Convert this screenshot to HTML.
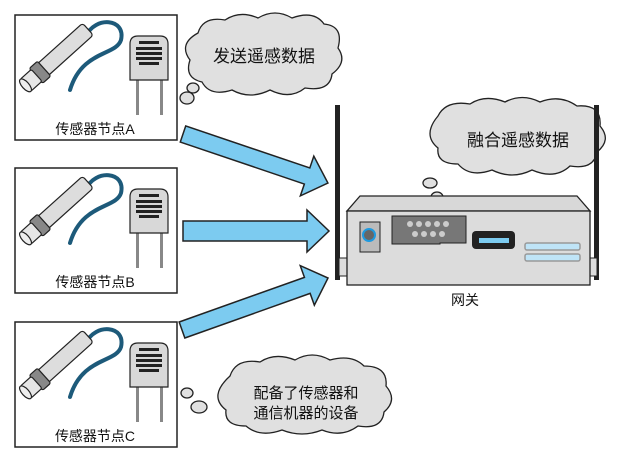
<!DOCTYPE html>
<html><head><meta charset="utf-8"><style>
html,body{margin:0;padding:0;background:#fff;}
svg{display:block;}
text{font-family:"Liberation Sans","Noto Sans CJK SC",sans-serif;fill:#111;}
</style></head><body>
<svg width="631" height="464" viewBox="0 0 631 464" xmlns="http://www.w3.org/2000/svg">
<defs>
<g id="node">
  <rect x="15" y="15" width="162" height="125" fill="#fff" stroke="#222" stroke-width="1.5"/>
  <path d="M86,36 C95,16 126,18 121,40 C116,56 82,50 70,90" fill="none" stroke="#1d5a7a" stroke-width="4" stroke-linecap="round"/>
  <g transform="translate(27,84) rotate(-42)">
    <rect x="10" y="-8" width="72" height="16" rx="3" fill="#ddd" stroke="#222" stroke-width="1.2"/>
    <rect x="12" y="-10" width="11" height="20" rx="2" fill="#888" stroke="#222" stroke-width="1.2"/>
    <rect x="-2" y="-8" width="15" height="16" rx="2" fill="#e6e6e6" stroke="#222" stroke-width="1.2"/>
    <ellipse cx="-2" cy="0" rx="3.5" ry="8" fill="#eee" stroke="#222" stroke-width="1.2"/>
  </g>
  <rect x="136" y="78" width="3" height="37" fill="#888"/>
  <rect x="160" y="78" width="3" height="37" fill="#888"/>
  <path d="M130,80 L130,44 Q130,36 138,36 L160,36 Q168,36 168,44 L168,80 Z" fill="#d8d8d8" stroke="#222" stroke-width="1.2"/>
  <rect x="139" y="41" width="20" height="3" fill="#222"/>
  <rect x="136" y="47" width="26" height="3" fill="#222"/>
  <rect x="136" y="52" width="26" height="3" fill="#222"/>
  <rect x="136" y="57" width="26" height="3" fill="#222"/>
  <rect x="139" y="62" width="20" height="3" fill="#222"/>
</g>
</defs>

<use href="#node"/>
<use href="#node" transform="translate(0,153)"/>
<use href="#node" transform="translate(0,307)"/>
<text x="95" y="134" font-size="14" text-anchor="middle">传感器节点A</text>
<text x="95" y="287" font-size="14" text-anchor="middle">传感器节点B</text>
<text x="95" y="441" font-size="14" text-anchor="middle">传感器节点C</text>

<g fill="#7ccbf0" stroke="#222" stroke-width="1.5" stroke-linejoin="miter">
  <polygon transform="translate(183,134) rotate(18.7)" points="0,-8.5 131,-8.5 131,-21 153,0 131,21 131,8.5 0,8.5"/>
  <polygon transform="translate(183,231)" points="0,-10 124,-10 124,-21 146,0 124,21 124,10 0,10"/>
  <polygon transform="translate(182,330) rotate(-19.6)" points="0,-8.5 133,-8.5 133,-21 155,0 133,21 133,8.5 0,8.5"/>
</g>

<g fill="#e0e0e0" stroke="#222" stroke-width="1.3">
  <path d="M198,33 Q203,16 225,20 Q240,10 258,18 Q275,8 292,18 Q314,10 324,24 Q344,26 338,48 Q348,62 332,74 Q330,92 305,88 Q290,100 270,90 Q250,100 232,90 Q210,97 202,82 Q184,78 190,60 Q178,44 198,33 Z"/>
  <ellipse cx="193" cy="88" rx="6" ry="5"/>
  <ellipse cx="187" cy="98" rx="7" ry="6"/>
  <path d="M438,116 Q446,100 470,104 Q485,94 505,102 Q522,93 540,102 Q560,94 577,106 Q602,104 600,126 Q612,140 597,152 Q594,170 570,166 Q555,180 532,170 Q512,180 492,170 Q470,178 458,164 Q436,164 438,148 Q422,135 438,116 Z"/>
  <ellipse cx="430" cy="183" rx="7" ry="5"/>
  <ellipse cx="437" cy="197" rx="6" ry="5"/>
  <path d="M230,376 Q236,358 260,362 Q275,352 295,360 Q312,350 330,360 Q352,354 364,366 Q388,366 386,386 Q398,400 384,412 Q382,430 358,426 Q342,438 322,430 Q302,438 282,430 Q260,438 246,426 Q224,426 226,410 Q208,396 230,376 Z"/>
  <ellipse cx="187" cy="393" rx="6" ry="5"/>
  <ellipse cx="199" cy="407" rx="8" ry="6"/>
</g>
<text x="264" y="62" font-size="17" text-anchor="middle">发送遥感数据</text>
<text x="518" y="146" font-size="17" text-anchor="middle">融合遥感数据</text>
<text x="306" y="398" font-size="15" text-anchor="middle">配备了传感器和</text>
<text x="306" y="418" font-size="15" text-anchor="middle">通信机器的设备</text>

<rect x="335" y="105" width="5" height="175" fill="#222"/>
<rect x="594" y="105" width="5" height="175" fill="#222"/>
<rect x="339" y="258" width="9" height="18" fill="#ddd" stroke="#222" stroke-width="1"/>
<rect x="588" y="258" width="9" height="18" fill="#ddd" stroke="#222" stroke-width="1"/>
<polygon points="360,196 577,196 590,211 347,211" fill="#d8d8d8" stroke="#222" stroke-width="1.3"/>
<rect x="347" y="211" width="243" height="74" fill="#dcdcdc" stroke="#222" stroke-width="1.3"/>
<rect x="360" y="222" width="20" height="30" fill="#bbb" stroke="#222" stroke-width="1"/>
<circle cx="369" cy="235" r="6" fill="#666" stroke="#1e9ae0" stroke-width="2"/>
<polygon points="392,216 466,216 466,243 440,243 440,244 392,244" fill="#777" stroke="#222" stroke-width="1"/>
<g fill="#ccc">
  <circle cx="410" cy="224" r="3"/><circle cx="419" cy="224" r="3"/><circle cx="428" cy="224" r="3"/><circle cx="437" cy="224" r="3"/><circle cx="446" cy="224" r="3"/>
  <circle cx="415" cy="234" r="3"/><circle cx="424" cy="234" r="3"/><circle cx="433" cy="234" r="3"/><circle cx="442" cy="234" r="3"/>
</g>
<rect x="472" y="231" width="43" height="18" rx="4" fill="#222"/>
<rect x="479" y="238" width="30" height="5" fill="#7ccbf0"/>
<rect x="525" y="243" width="55" height="7" rx="2" fill="#bfe4f7" stroke="#999" stroke-width="1.5"/>
<rect x="525" y="254" width="55" height="7" rx="2" fill="#bfe4f7" stroke="#999" stroke-width="1.5"/>
<text x="465" y="305" font-size="14" text-anchor="middle">网关</text>
</svg>
</body></html>
